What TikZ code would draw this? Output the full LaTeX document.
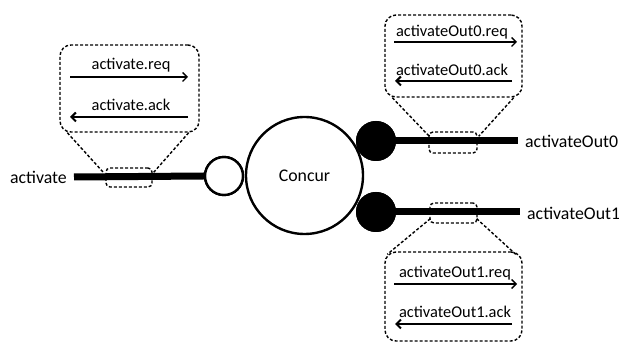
\documentclass[tikz,border=0pt]{standalone}
\usepackage{fontspec}
\setmainfont{Carlito}
\usetikzlibrary{arrows.meta,calc}
\tikzset{
  bus/.style={line width=7pt},
  port/.style={circle,draw,line width=2.4pt,inner sep=0pt,minimum size=38pt,fill=white},
  dotport/.style={circle,fill=black,inner sep=0pt,minimum size=40pt},
  zoombox/.style={draw,dashed,dash pattern=on 3pt off 2pt,line width=1.4pt,rounded corners=4pt,inner sep=0pt},
  callout/.style={draw,dashed,dash pattern=on 3pt off 2pt,line width=1.4pt,rounded corners=11pt,inner sep=0pt},
  funnel/.style={dashed,dash pattern=on 3pt off 2pt,line width=1.4pt},
  sig/.style={line width=1.4pt,-{Straight Barb[length=4.5pt,width=9pt]}},
  sigback/.style={line width=2pt,-{Straight Barb[length=4.5pt,width=9pt]}},
  outer/.style={font=\fontsize{17.8}{20}\selectfont,inner sep=0pt},
  inner/.style={font=\fontsize{16.4}{18}\selectfont,inner sep=0pt},
}
\begin{document}
\begin{tikzpicture}[x=1pt,y=-1pt]
\useasboundingbox (0,0) rectangle (619,344);

% component and its ports
\node[circle,draw,line width=2.4pt,inner sep=0pt,minimum size=117pt,outer] (concur) at (304.5,175.5) {Concur};
\node[port] (pin) at (224,176) {};
\node[dotport] (p0) at (376,141) {};
\node[dotport] (p1) at (376,212) {};

% channel ends
\coordinate (endin) at (74,177);
\coordinate (end0) at (518,141);
\coordinate (end1) at (520,212);

\draw[bus] (endin) -- (pin.west);
\draw[bus] (p0.center) -- (end0);
\draw[bus] (p1.center) -- (end1);
\node[port] at (pin) {};
\node[dotport] at (p0) {};
\node[dotport] at (p1) {};

% channel names
\node[outer,anchor=east] (nin) at (67,177) {activate};
\node[outer,anchor=west] (n0) at (525,141) {activateOut0};
\node[outer,anchor=west] (n1) at (527,213) {activateOut1};

% highlighted channel segments
\node[zoombox,minimum width=46pt,minimum height=19pt] (zin) at (129,177.5) {};
\node[zoombox,minimum width=48pt,minimum height=21pt] (z0) at (453,142.5) {};
\node[zoombox,minimum width=47pt,minimum height=20pt] (z1) at (453.5,213) {};

% magnified views
\node[callout,minimum width=139pt,minimum height=87pt] (cin) at (129.5,88.5) {};
\node[callout,minimum width=137pt,minimum height=82pt] (c0) at (453.5,56) {};
\node[callout,minimum width=137pt,minimum height=89pt] (c1) at (453.5,296.5) {};

% funnels
\draw[funnel] ($(cin.south west)+(8,0)$) -- ($(zin.north west)+(-2,5)$);
\draw[funnel] ($(cin.south east)+(-11,0)$) -- ($(zin.north east)+(1,5)$);
\draw[funnel] ($(c0.south west)+(8,0)$) -- ($(z0.north west)+(1,5)$);
\draw[funnel] ($(c0.south east)+(-9,0)$) -- ($(z0.north east)+(1,5)$);
\draw[funnel] ($(z1.south west)+(1,-5)$) -- ($(c1.north west)+(3,3)$);
\draw[funnel] ($(z1.south east)+(-1,-5)$) -- ($(c1.north east)+(-7,3)$);

% handshake signals
\coordinate (ra) at (70,77);  \coordinate (rb) at (188,77);
\coordinate (aa) at (188,117); \coordinate (ab) at (70,117);
\draw[sig] (ra) -- (rb);
\draw[sigback] (aa) -- (ab);
\node[inner] (lra) at (131,65) {activate.req};
\node[inner] (laa) at (131,105) {activate.ack};

\coordinate (r0a) at (394,42);  \coordinate (r0b) at (517,42);
\coordinate (a0a) at (512,81);  \coordinate (a0b) at (395,81);
\draw[sig] (r0a) -- (r0b);
\draw[sigback] (a0a) -- (a0b);
\node[inner] (lr0) at (452,32) {activateOut0.req};
\node[inner] (la0) at (452,70) {activateOut0.ack};

\coordinate (r1a) at (394,284); \coordinate (r1b) at (517,284);
\coordinate (a1a) at (512,324); \coordinate (a1b) at (395,324);
\draw[sig] (r1a) -- (r1b);
\draw[sigback] (a1a) -- (a1b);
\node[inner] (lr1) at (455,273) {activateOut1.req};
\node[inner] (la1) at (455,312) {activateOut1.ack};
\end{tikzpicture}
\end{document}
